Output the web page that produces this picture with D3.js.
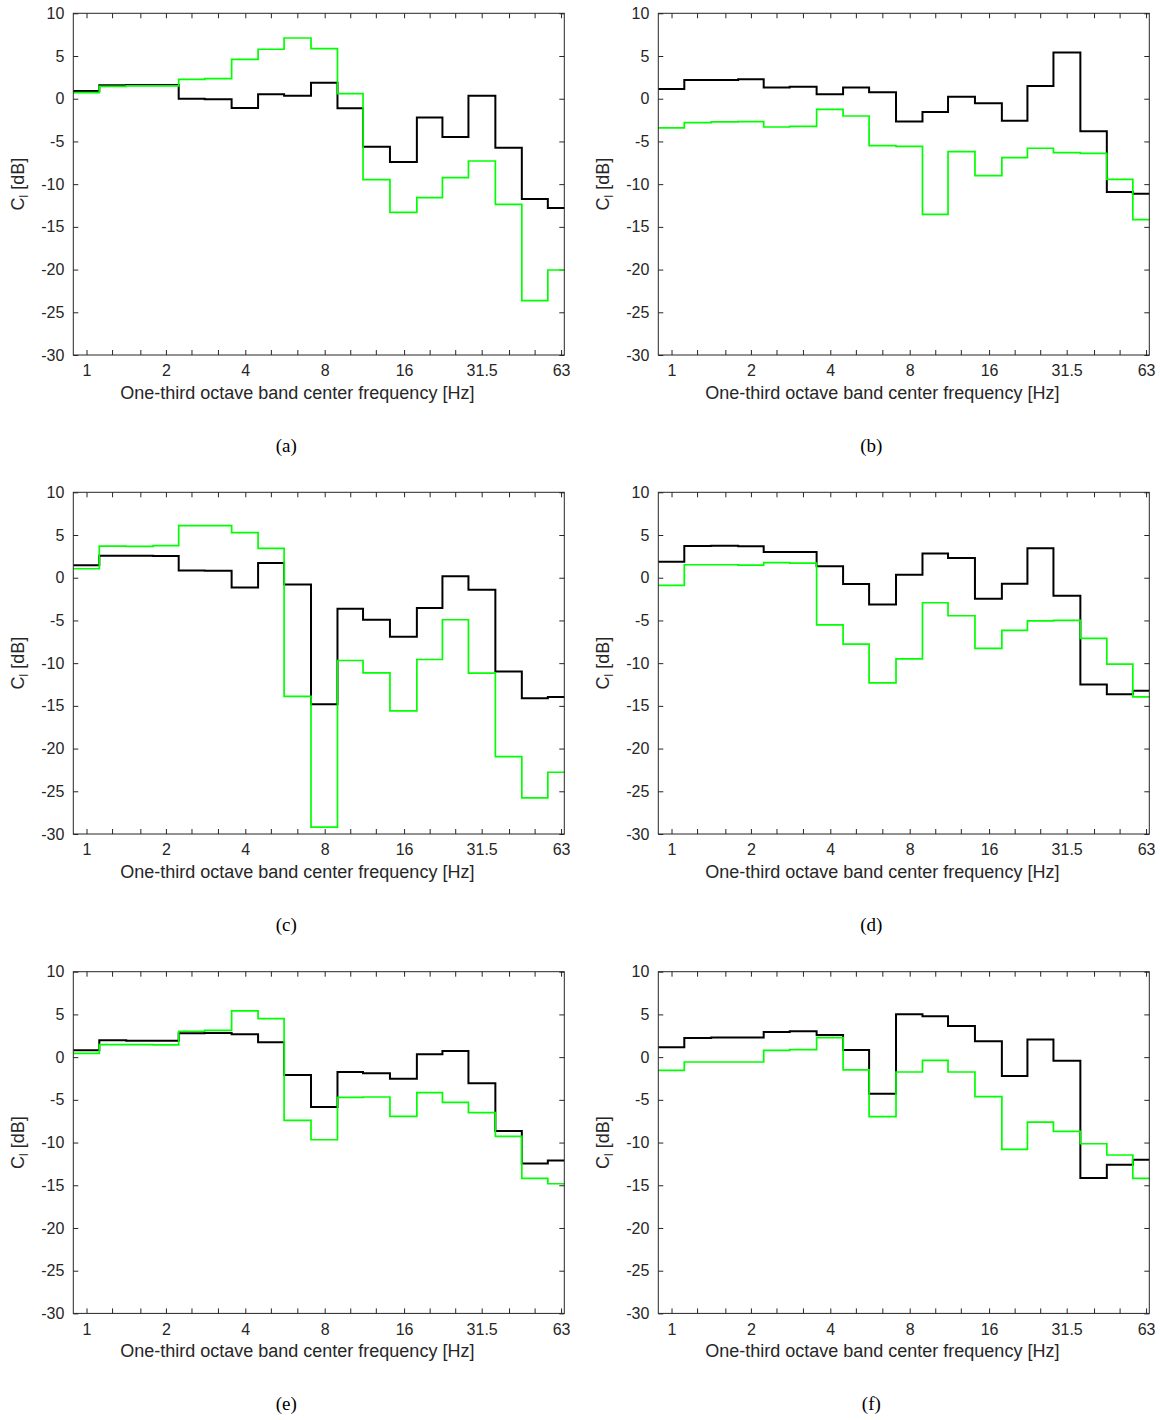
<!DOCTYPE html>
<html>
<head>
<meta charset="utf-8">
<script src="https://cdn.jsdelivr.net/npm/d3@7"></script>
<style>
  html, body { margin: 0; padding: 0; background: #fff; }
  svg { display: block; }
  .tick text { font-family: "Liberation Sans", Arial, sans-serif; font-size: 16px; fill: #262626; }
  .lbl { font-family: "Liberation Sans", Arial, sans-serif; font-size: 18px; fill: #262626; }
  .cap { font-family: "Liberation Serif", "DejaVu Serif", serif; font-size: 19px; fill: #000; }
</style>
</head>
<body>
<svg id="fig" width="1160" height="1420"></svg>
<script>
// One-third octave band centre frequencies (Hz) and the labelled ones
const bands = [1, 1.25, 1.6, 2, 2.5, 3.15, 4, 5, 6.3, 8, 10, 12.5, 16, 20, 25, 31.5, 40, 50, 63];
const labelledBands = [1, 2, 4, 8, 16, 31.5, 63];
const yTicks = [10, 5, 0, -5, -10, -15, -20, -25, -30];
const panelLabels = ["(a)", "(b)", "(c)", "(d)", "(e)", "(f)"];

// C_l per band [dB]
const blackA = [0.9, 1.57, 1.6, 1.6, 0.0, -0.05, -1.08, 0.52, 0.36, 1.88, -1.12, -5.61, -7.4, -2.21, -4.48, 0.36, -5.73, -11.74, -12.79];
const greenA = [0.71, 1.45, 1.5, 1.5, 2.27, 2.35, 4.61, 5.79, 7.11, 5.86, 0.6, -9.47, -13.3, -11.58, -9.24, -7.29, -12.36, -23.64, -20.05];

const blackB = [1.14, 2.2, 2.2, 2.27, 1.3, 1.41, 0.52, 1.3, 0.75, -2.68, -1.55, 0.24, -0.54, -2.57, 1.49, 5.4, -3.81, -10.92, -11.11];
const greenB = [-3.42, -2.8, -2.72, -2.68, -3.31, -3.23, -1.24, -2.02, -5.49, -5.57, -13.53, -6.2, -9.0, -6.9, -5.8, -6.31, -6.39, -9.43, -14.16];

const blackC = [1.45, 2.58, 2.58, 2.54, 0.86, 0.82, -1.13, 1.72, -0.78, -14.8, -3.63, -4.92, -6.91, -3.55, 0.16, -1.41, -10.98, -14.1, -13.95];
const greenC = [1.05, 3.71, 3.67, 3.75, 6.09, 6.09, 5.27, 3.44, -13.9, -29.2, -9.69, -11.13, -15.59, -9.57, -4.92, -11.17, -20.94, -25.78, -22.77];

const blackD = [1.88, 3.71, 3.75, 3.67, 3.0, 3.0, 1.33, -0.74, -3.13, 0.35, 2.85, 2.3, -2.46, -0.7, 3.44, -2.11, -12.5, -13.63, -13.24];
const greenD = [-0.9, 1.52, 1.52, 1.48, 1.76, 1.72, -5.51, -7.77, -12.3, -9.49, -2.93, -4.45, -8.28, -6.17, -5.04, -5.0, -7.11, -10.12, -13.95];

const blackE = [0.8, 1.97, 1.93, 1.93, 2.79, 2.83, 2.68, 1.74, -2.09, -5.84, -1.74, -1.89, -2.52, 0.33, 0.72, -3.07, -8.65, -12.44, -12.09];
const greenE = [0.45, 1.46, 1.46, 1.43, 3.03, 3.14, 5.41, 4.51, -7.4, -9.67, -4.71, -4.67, -6.93, -4.16, -5.29, -6.5, -9.28, -14.2, -14.82];

const blackF = [1.15, 2.25, 2.29, 2.29, 2.95, 3.03, 2.6, 0.84, -4.28, 5.02, 4.79, 3.65, 1.86, -2.21, 2.05, -0.41, -14.16, -12.6, -12.01];
const greenF = [-1.54, -0.57, -0.57, -0.57, 0.8, 0.88, 2.29, -1.5, -6.97, -1.74, -0.37, -1.74, -4.63, -10.8, -7.6, -8.69, -10.14, -11.46, -14.2];

const seriesBlack = [blackA, blackB, blackC, blackD, blackE, blackF];
const seriesGreen = [greenA, greenB, greenC, greenD, greenE, greenF];

// Layout of the 3x2 grid of axes
const plotW = 491, plotH = 341.7;
const colX = [73.3, 658.3];
const rowY = [13.3, 492.3, 971.7];
const axisColor = "#262626";

const svg = d3.select("#fig");

const xDomain = [0.891, 64.8];
const x = d3.scaleLog().domain(xDomain).range([0, plotW]);
const y = d3.scaleLinear().domain([-30, 10]).range([plotH, 0]);

// Lower band edge: geometric mean of neighbouring centres
function lowerEdge(i) {
  return i === 0 ? xDomain[0] : Math.sqrt(bands[i - 1] * bands[i]);
}
function stairPoints(values) {
  const pts = values.map((v, i) => [lowerEdge(i), v]);
  pts.push([xDomain[1], values[values.length - 1]]);
  return pts;
}
const stair = d3.line()
  .x(d => x(d[0]))
  .y(d => y(d[1]))
  .curve(d3.curveStepAfter);

const fmtX = d => labelledBands.includes(d) ? String(d) : "";
const fmtY = d => String(d); // plain hyphen-minus

panelLabels.forEach((label, p) => {
  const col = p % 2, row = Math.floor(p / 2);
  const g = svg.append("g").attr("transform", `translate(${colX[col]},${rowY[row]})`);

  // axes with inward ticks on all four sides
  const bottom = g.append("g").attr("transform", `translate(0,${plotH})`)
    .call(d3.axisBottom(x).tickValues(bands).tickFormat(fmtX).tickSizeInner(-5).tickSizeOuter(0).tickPadding(10));
  const top = g.append("g")
    .call(d3.axisTop(x).tickValues(bands).tickFormat("").tickSizeInner(-5).tickSizeOuter(0));
  const left = g.append("g")
    .call(d3.axisLeft(y).tickValues(yTicks).tickFormat(fmtY).tickSizeInner(-5).tickSizeOuter(0).tickPadding(9));
  const right = g.append("g").attr("transform", `translate(${plotW},0)`)
    .call(d3.axisRight(y).tickValues(yTicks).tickFormat("").tickSizeInner(-5).tickSizeOuter(0));
  [bottom, top, left, right].forEach(a => {
    a.select(".domain").remove();
    a.selectAll(".tick line").attr("stroke", axisColor).attr("stroke-width", 1);
  });

  // data lines
  g.append("path").datum(stairPoints(seriesBlack[p]))
    .attr("d", stair).attr("fill", "none").attr("stroke", "#000").attr("stroke-width", 2);
  g.append("path").datum(stairPoints(seriesGreen[p]))
    .attr("d", stair).attr("fill", "none").attr("stroke", "#00ff00").attr("stroke-width", 1.7);

  // axes box
  g.append("rect").attr("x", 0).attr("y", 0).attr("width", plotW).attr("height", plotH)
    .attr("fill", "none").attr("stroke", axisColor).attr("stroke-width", 1);

  // axis titles
  g.append("text").attr("class", "lbl")
    .attr("x", 224).attr("y", plotH + 44).attr("text-anchor", "middle")
    .text("One-third octave band center frequency [Hz]");

  const yl = g.append("text").attr("class", "lbl")
    .attr("transform", `translate(-49,${plotH / 2}) rotate(-90)`)
    .attr("text-anchor", "middle");
  yl.append("tspan").text("C");
  yl.append("tspan").attr("font-size", "12px").attr("dy", 4).text("l");
  yl.append("tspan").attr("dy", -4).text(" [dB]");

  // sub-figure caption
  g.append("text").attr("class", "cap")
    .attr("x", 213).attr("y", plotH + 97).attr("text-anchor", "middle")
    .text(label);
});
</script>
</body>
</html>
